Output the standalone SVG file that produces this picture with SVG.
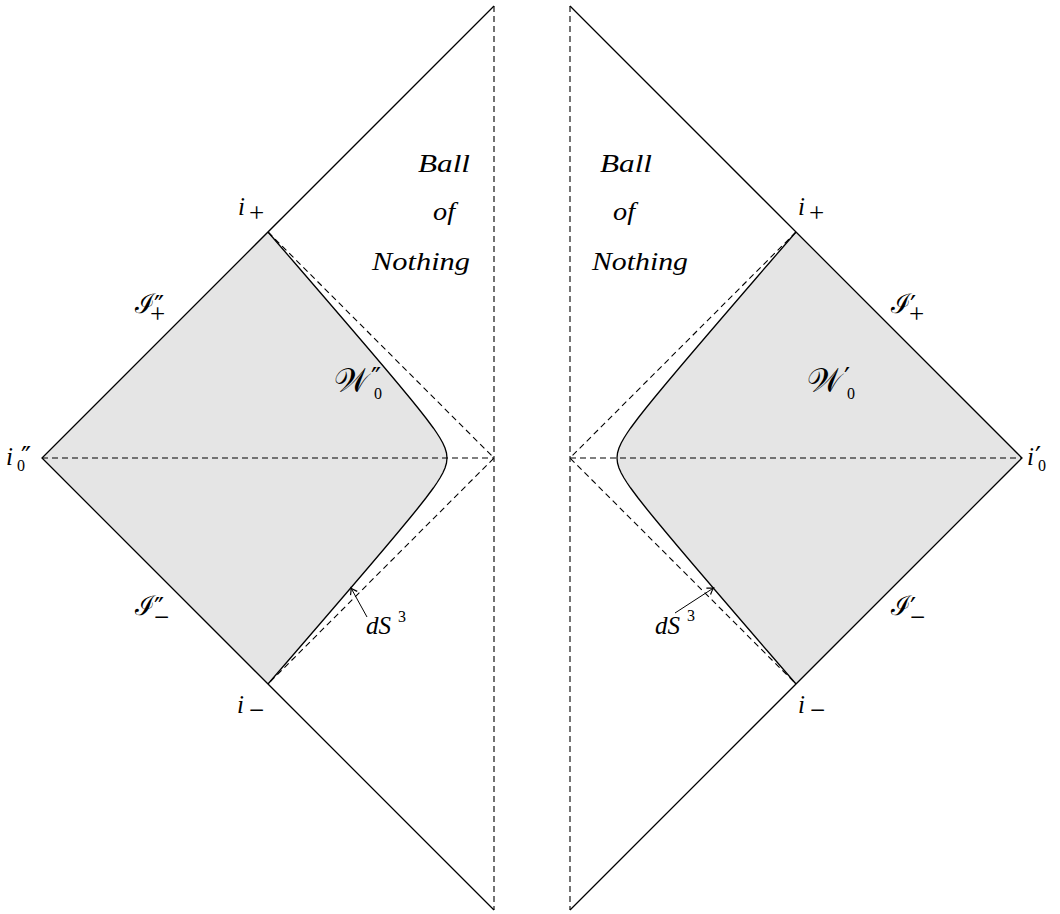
<svg xmlns="http://www.w3.org/2000/svg" width="1060" height="914" viewBox="0 0 1060 914">
<style>
.bg{fill:#ffffff}
.shade{fill:#e5e5e5;stroke:none}
.solid{fill:none;stroke:#000;stroke-width:1.3}
.dash{fill:none;stroke:#000;stroke-width:1.1;stroke-dasharray:6 4}
.lbl{font-family:'Liberation Serif',serif;font-style:italic;fill:#000}
.sym{font-family:'DejaVu Serif',serif;fill:#000}
.sub{font-family:'Liberation Serif',serif;fill:#000;font-size:16px}
.op{font-family:'Liberation Serif',serif;fill:#000;font-size:27px}
.pr{font-family:'DejaVu Sans',sans-serif;fill:#000;font-size:27px}
.ptr{fill:none;stroke:#000;stroke-width:1}
</style>
<defs>
<marker id="tip" markerUnits="userSpaceOnUse" markerWidth="12" markerHeight="12" viewBox="-6 -5 8 10" refX="0" refY="0" orient="auto">
<path d="M-5,-3.2 Q-1.5,-0.6 0,0 Q-1.5,0.6 -5,3.2" fill="none" stroke="#000" stroke-width="1"/>
</marker>
</defs>
<rect class="bg" x="0" y="0" width="1060" height="914"/>

<g id="left-diagram">
<path class="shade" d="M268,232 L42,458 L268,684 L281.82,668 L294.78,653 L307.72,638 L320.65,623 L333.55,608 L346.44,593 L359.29,578 L372.10,563 L384.83,548 L397.45,533 L409.89,518 L418.01,508 L425.89,498 L433.34,488 L436.81,483 L439.99,478 L442.79,473 L445.02,468 L446.48,463 L447,458 L446.48,453 L445.02,448 L442.79,443 L439.99,438 L436.81,433 L433.34,428 L425.89,418 L418.01,408 L409.89,398 L397.45,383 L384.83,368 L372.10,353 L359.29,338 L346.44,323 L333.55,308 L320.65,293 L307.72,278 L294.78,263 L281.82,248 Z"/>
<line class="dash" x1="494" y1="6" x2="494" y2="910"/>
<line class="dash" x1="42" y1="458" x2="494" y2="458"/>
<polyline class="dash" points="268,232 494,458 268,684"/>
<polyline class="solid" points="494,6 42,458 494,910"/>
<path class="solid" d="M268,684 L281.82,668 L294.78,653 L307.72,638 L320.65,623 L333.55,608 L346.44,593 L359.29,578 L372.10,563 L384.83,548 L397.45,533 L409.89,518 L418.01,508 L425.89,498 L433.34,488 L436.81,483 L439.99,478 L442.79,473 L445.02,468 L446.48,463 L447,458 L446.48,453 L445.02,448 L442.79,443 L439.99,438 L436.81,433 L433.34,428 L425.89,418 L418.01,408 L409.89,398 L397.45,383 L384.83,368 L372.10,353 L359.29,338 L346.44,323 L333.55,308 L320.65,293 L307.72,278 L294.78,263 L281.82,248 L268,232"/>
</g>

<g id="right-diagram">
<path class="shade" d="M796,232 L1022,458 L796,684 L782.18,668 L769.22,653 L756.28,638 L743.35,623 L730.45,608 L717.56,593 L704.71,578 L691.90,563 L679.17,548 L666.55,533 L654.11,518 L645.99,508 L638.11,498 L630.66,488 L627.19,483 L624.01,478 L621.21,473 L618.98,468 L617.52,463 L617,458 L617.52,453 L618.98,448 L621.21,443 L624.01,438 L627.19,433 L630.66,428 L638.11,418 L645.99,408 L654.11,398 L666.55,383 L679.17,368 L691.90,353 L704.71,338 L717.56,323 L730.45,308 L743.35,293 L756.28,278 L769.22,263 L782.18,248 Z"/>
<line class="dash" x1="570" y1="6" x2="570" y2="910"/>
<line class="dash" x1="570" y1="458" x2="1022" y2="458"/>
<polyline class="dash" points="796,232 570,458 796,684"/>
<polyline class="solid" points="570,6 1022,458 570,910"/>
<path class="solid" d="M796,684 L782.18,668 L769.22,653 L756.28,638 L743.35,623 L730.45,608 L717.56,593 L704.71,578 L691.90,563 L679.17,548 L666.55,533 L654.11,518 L645.99,508 L638.11,498 L630.66,488 L627.19,483 L624.01,478 L621.21,473 L618.98,468 L617.52,463 L617,458 L617.52,453 L618.98,448 L621.21,443 L624.01,438 L627.19,433 L630.66,428 L638.11,418 L645.99,408 L654.11,398 L666.55,383 L679.17,368 L691.90,353 L704.71,338 L717.56,323 L730.45,308 L743.35,293 L756.28,278 L769.22,263 L782.18,248 L796,232"/>
</g>

<g id="connectors">
<line class="ptr" x1="367" y1="617" x2="351" y2="588" marker-end="url(#tip)"/>
<line class="ptr" x1="675" y1="613" x2="713.5" y2="588" marker-end="url(#tip)"/>
</g>

<g id="labels-left">
<text class="lbl" x="470" y="172" font-size="25" text-anchor="end" textLength="52" lengthAdjust="spacingAndGlyphs">Ball</text>
<text class="lbl" x="433" y="220" font-size="25" textLength="22" lengthAdjust="spacingAndGlyphs">of</text>
<text class="lbl" x="372" y="270" font-size="25" textLength="98" lengthAdjust="spacingAndGlyphs">Nothing</text>
<text class="lbl" x="6" y="465" font-size="25">i</text><text class="pr" x="21" y="466">″</text><text class="sub" x="17" y="471">0</text>
<text class="lbl" x="238" y="215" font-size="25">i</text><text class="op" x="249" y="222">+</text>
<text class="lbl" x="237" y="713" font-size="25">i</text><text class="op" x="249" y="719">−</text>
<text class="sym" x="135" y="313" font-size="27">ℐ</text><text class="pr" x="154" y="315">″</text><text class="op" x="150" y="323">+</text>
<text class="sym" x="135" y="615" font-size="27">ℐ</text><text class="pr" x="154" y="617">″</text><text class="op" x="154" y="626">−</text>
<text class="sym" x="334" y="392" font-size="33">𝒲</text><text class="pr" x="371" y="387">″</text><text class="sub" x="374" y="399">0</text>
<text class="lbl" x="366" y="634" font-size="25">dS</text><text class="sub" x="398" y="622">3</text>
</g>

<g id="labels-right">
<text class="lbl" x="600" y="172" font-size="25" textLength="52" lengthAdjust="spacingAndGlyphs">Ball</text>
<text class="lbl" x="613" y="220" font-size="25" textLength="22" lengthAdjust="spacingAndGlyphs">of</text>
<text class="lbl" x="592" y="270" font-size="25" textLength="96" lengthAdjust="spacingAndGlyphs">Nothing</text>
<text class="lbl" x="1027" y="465" font-size="25">i</text><text class="pr" x="1035" y="466">′</text><text class="sub" x="1038" y="471">0</text>
<text class="lbl" x="798" y="215" font-size="25">i</text><text class="op" x="809" y="222">+</text>
<text class="lbl" x="798" y="713" font-size="25">i</text><text class="op" x="810" y="719">−</text>
<text class="sym" x="891" y="313" font-size="27">ℐ</text><text class="pr" x="910" y="315">′</text><text class="op" x="909" y="323">+</text>
<text class="sym" x="891" y="615" font-size="27">ℐ</text><text class="pr" x="910" y="617">′</text><text class="op" x="910" y="626">−</text>
<text class="sym" x="807" y="392" font-size="33">𝒲</text><text class="pr" x="844" y="387">′</text><text class="sub" x="847" y="399">0</text>
<text class="lbl" x="655" y="634" font-size="25">dS</text><text class="sub" x="687" y="621">3</text>
</g>
</svg>
